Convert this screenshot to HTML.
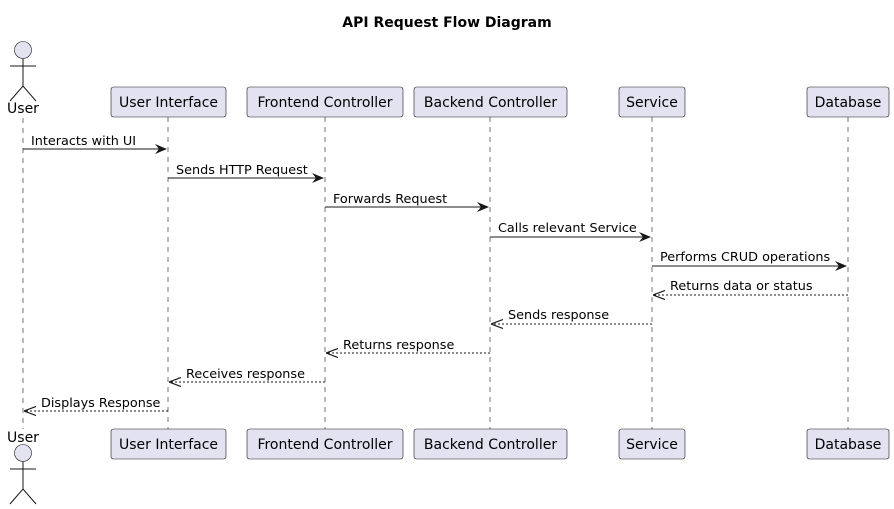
<!DOCTYPE html>
<html><head><meta charset="utf-8"><style>body{margin:0;background:#fff}svg{display:block}</style></head><body>
<svg width="894" height="509" xmlns="http://www.w3.org/2000/svg" font-family="DejaVu Sans, sans-serif">
<defs><marker id="a" viewBox="0 0 12 10" refX="11" refY="5" markerWidth="12" markerHeight="10" markerUnits="userSpaceOnUse" orient="auto"><path d="M0,0 L12,5 L0,10 L4,5 Z" fill="#181818"/></marker>
<marker id="o" viewBox="0 0 12 10" refX="11" refY="5" markerWidth="12" markerHeight="10" markerUnits="userSpaceOnUse" orient="auto"><path d="M0,0.5 L12,5 L0,9.5" fill="none" stroke="#181818" stroke-width="1.2"/></marker></defs>
<text x="447" y="27" text-anchor="middle" font-weight="bold" font-size="14">API Request Flow Diagram</text>
<g stroke="#181818" stroke-width="0.6" stroke-dasharray="5,5">
<line x1="23" y1="118" x2="23" y2="429"/><line x1="168" y1="117" x2="168" y2="429"/><line x1="325" y1="117" x2="325" y2="429"/><line x1="490" y1="117" x2="490" y2="429"/><line x1="652" y1="117" x2="652" y2="429"/><line x1="848" y1="117" x2="848" y2="429"/></g>
<g fill="#E2E2F0" stroke="#181818" stroke-width="0.6">
<circle cx="23" cy="50" r="8.5"/><circle cx="23" cy="453" r="8.5"/>
<rect x="111" y="87" width="115" height="30" rx="2.5"/><rect x="247" y="87" width="156" height="30" rx="2.5"/><rect x="414" y="87" width="153" height="30" rx="2.5"/><rect x="619" y="87" width="66" height="30" rx="2.5"/><rect x="807" y="87" width="82" height="30" rx="2.5"/>
<rect x="111" y="429" width="115" height="30" rx="2.5"/><rect x="247" y="429" width="156" height="30" rx="2.5"/><rect x="414" y="429" width="153" height="30" rx="2.5"/><rect x="619" y="429" width="66" height="30" rx="2.5"/><rect x="807" y="429" width="82" height="30" rx="2.5"/></g>
<g stroke="#181818" stroke-width="1" fill="none">
<path d="M23 58.5V86M10 66H36M10 101L23 86L36 101"/><path d="M23 461.5V489M10 469H36M10 504L23 489L36 504"/></g>
<g font-size="14" text-anchor="middle" fill="#000">
<text x="23" y="113">User</text><text x="23" y="442">User</text>
<text x="168.5" y="107">User Interface</text><text x="325" y="107">Frontend Controller</text><text x="490.5" y="107">Backend Controller</text><text x="652" y="107">Service</text><text x="848" y="107">Database</text>
<text x="168.5" y="449">User Interface</text><text x="325" y="449">Frontend Controller</text><text x="490.5" y="449">Backend Controller</text><text x="652" y="449">Service</text><text x="848" y="449">Database</text></g>
<g stroke="#181818" stroke-width="1">
<line x1="23" y1="149" x2="166" y2="149" marker-end="url(#a)"/>
<line x1="168" y1="178" x2="323" y2="178" marker-end="url(#a)"/>
<line x1="325" y1="207" x2="488" y2="207" marker-end="url(#a)"/>
<line x1="490" y1="237" x2="650" y2="237" marker-end="url(#a)"/>
<line x1="652" y1="266" x2="846" y2="266" marker-end="url(#a)"/>
<g stroke-dasharray="2,2">
<line x1="848" y1="295" x2="654" y2="295" marker-end="url(#o)"/>
<line x1="652" y1="324" x2="492" y2="324" marker-end="url(#o)"/>
<line x1="490" y1="353" x2="327" y2="353" marker-end="url(#o)"/>
<line x1="325" y1="382" x2="170" y2="382" marker-end="url(#o)"/>
<line x1="168" y1="411" x2="25" y2="411" marker-end="url(#o)"/></g></g>
<g font-size="12.8" fill="#000">
<text x="31" y="145">Interacts with UI</text>
<text x="176" y="174">Sends HTTP Request</text>
<text x="333" y="203">Forwards Request</text>
<text x="498" y="232">Calls relevant Service</text>
<text x="660" y="261">Performs CRUD operations</text>
<text x="670" y="290">Returns data or status</text>
<text x="508" y="319">Sends response</text>
<text x="343" y="349">Returns response</text>
<text x="186" y="378">Receives response</text>
<text x="41" y="407">Displays Response</text></g>
</svg></body></html>
